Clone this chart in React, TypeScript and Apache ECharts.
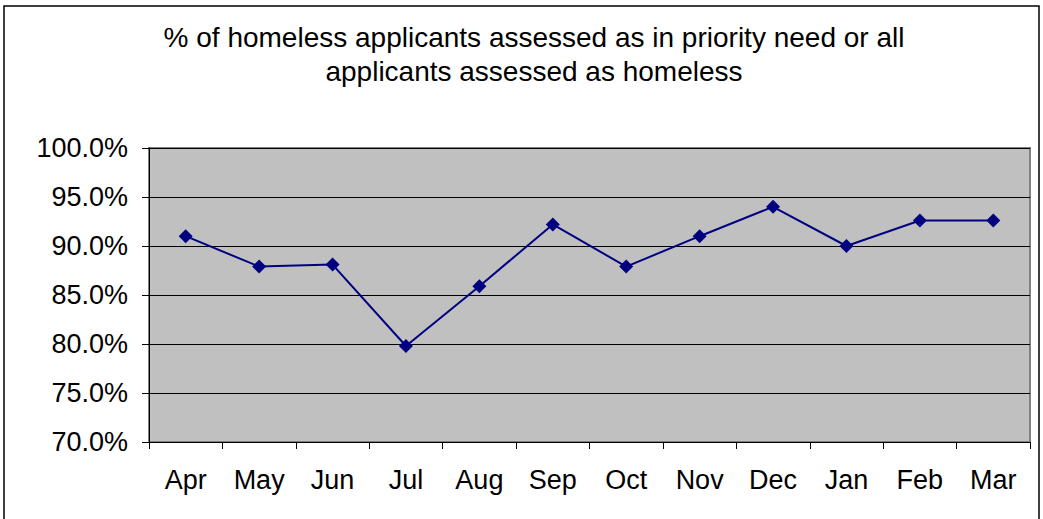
import React, { useEffect, useRef } from "react";
import * as echarts from "echarts";

const months = ["Apr", "May", "Jun", "Jul", "Aug", "Sep", "Oct", "Nov", "Dec", "Jan", "Feb", "Mar"];
const percentValues = [91.0, 87.9, 88.1, 79.8, 85.9, 92.2, 87.9, 91.0, 94.0, 90.0, 92.6, 92.6];
const titleLines = ["% of homeless applicants assessed as in priority need or all", "applicants assessed as homeless"];

export default function App() {
  const ref = useRef<HTMLDivElement>(null);
  useEffect(() => {
    if (!ref.current) return;
    const chart = echarts.init(ref.current, null, { renderer: "svg" });
    const font = "'Liberation Sans', Arial, sans-serif";
    chart.setOption({
      animation: false,
      backgroundColor: "#ffffff",
      title: {
        text: titleLines.join("\n"),
        left: 529,
        textAlign: "center",
        top: 15,
        textStyle: { fontFamily: font, fontSize: 28, fontWeight: "normal", color: "#000", lineHeight: 34 },
      },
      graphic: [
        {
          type: "rect",
          shape: { x: 4, y: 6, width: 1035, height: 520 },
          style: { fill: "none", stroke: "#000", lineWidth: 1.5 },
          silent: true,
          z: -1,
        },
      ],
      grid: {
        left: 149,
        top: 148,
        width: 881,
        height: 294,
        show: true,
        backgroundColor: "#c0c0c0",
        borderColor: "#808080",
        borderWidth: 2,
      },
      xAxis: {
        type: "category",
        data: months,
        boundaryGap: true,
        axisLine: { show: true, lineStyle: { color: "#000", width: 1 } },
        axisTick: { show: true, alignWithLabel: false, length: 7, lineStyle: { color: "#000" } },
        axisLabel: { fontFamily: font, fontSize: 27, color: "#000", margin: 24 },
        splitLine: { show: false },
      },
      yAxis: {
        type: "value",
        min: 70,
        max: 100,
        interval: 5,
        axisLine: { show: true, lineStyle: { color: "#000", width: 1 } },
        axisTick: { show: true, length: 7, lineStyle: { color: "#000" } },
        axisLabel: {
          fontFamily: font,
          fontSize: 27,
          color: "#000",
          margin: 21,
          formatter: (v: number) => v.toFixed(1) + "%",
        },
        splitLine: { show: true, lineStyle: { color: "#000", width: 1 } },
      },
      series: [
        {
          type: "line",
          data: percentValues,
          symbol: "diamond",
          symbolSize: 14,
          lineStyle: { color: "#000080", width: 2 },
          itemStyle: { color: "#000080" },
        },
      ],
    });
    return () => chart.dispose();
  }, []);
  return <div ref={ref} style={{ position: "absolute", left: 0, top: 0, width: 1043, height: 519 }} />;
}
